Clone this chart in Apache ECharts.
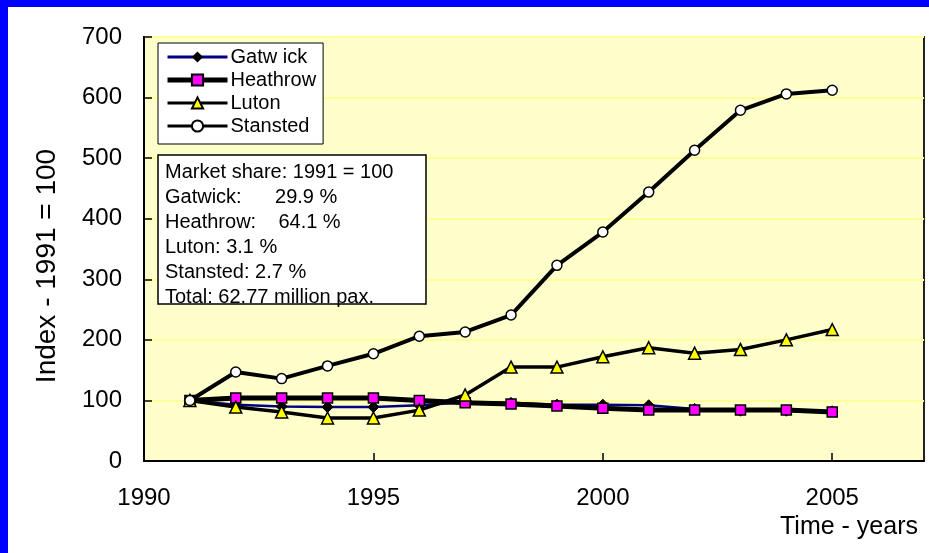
<!DOCTYPE html>
<html>
<head>
<meta charset="utf-8">
<title>London airports index</title>
<script src="https://cdn.jsdelivr.net/npm/echarts@6/dist/echarts.min.js"></script>
<style>
  html, body { margin: 0; padding: 0; background: #fff; }
  #chart { width: 929px; height: 553px; }
</style>
</head>
<body>
<div id="chart"></div>
<script>
  // data (index, 1991 = 100)
  var years = [1991, 1992, 1993, 1994, 1995, 1996, 1997, 1998, 1999, 2000, 2001, 2002, 2003, 2004, 2005];
  var gatwick = [100, 93, 90, 89, 89, 92, 97, 96, 93, 93, 92, 86, 83, 83, 82];
  var heathrow = [100, 104, 104, 104, 104, 100, 96, 94, 91, 87, 84, 84, 84, 84, 81];
  var luton = [100, 89, 81, 71, 71, 84, 109, 155, 155, 172, 187, 178, 184, 200, 217];
  var stansted = [100, 147, 136, 157, 177, 206, 213, 241, 323, 378, 444, 513, 579, 606, 612];
  var seriesNames = ['Gatw ick', 'Heathrow', 'Luton', 'Stansted'];
  var noteLines = [
    'Market share: 1991 = 100',
    'Gatwick:      29.9 %',
    'Heathrow:    64.1 %',
    'Luton: 3.1 %',
    'Stansted: 2.7 %',
    'Total: 62.77 million pax.'
  ];
  var yTitle = 'Index - 1991 = 100';
  var xTitle = 'Time - years';

  var font = '"Liberation Sans", Arial, sans-serif';

  function pairs(vals) {
    return vals.map(function (v, i) { return [years[i], v]; });
  }

  var myChart = echarts.init(document.getElementById('chart'));

  // 说明框
  var noteGraphic = [{
    type: 'rect',
    shape: { x: 158, y: 155, width: 268, height: 149 },
    style: { fill: '#fff', stroke: '#000', lineWidth: 1.5 },
    z: 10
  }];
  noteLines.forEach(function (t, i) {
    noteGraphic.push({
      type: 'text',
      x: 165,
      y: 172 + i * 25,
      style: { text: t, font: '20px ' + font, fill: '#000', verticalAlign: 'middle' },
      z: 11
    });
  });

  var legendWidths = [3, 5, 3, 3];

  var options = {
    animation: false,
    grid: {
      left: 144, top: 37, right: 5, bottom: 92,
      outerBoundsMode: 'none',
      containLabel: false,
      show: true,
      backgroundColor: '#FFFFCC',
      borderColor: '#222',
      borderWidth: 2
    },
    legend: {
      data: seriesNames.map(function (n, i) {
        return { name: n, lineStyle: { width: legendWidths[i] } };
      }),
      orient: 'vertical',
      left: 158,
      top: 43,
      padding: [4, 7, 8, 7],
      itemWidth: 60,
      itemHeight: 14,
      itemGap: 3,
      backgroundColor: '#fff',
      borderColor: '#000',
      borderWidth: 1,
      textStyle: { fontFamily: font, fontSize: 20, color: '#000', padding: [0, 0, 0, -2] },
      z: 12
    },
    xAxis: {
      type: 'value',
      min: 1990,
      max: 2007,
      interval: 5,
      axisLine: { lineStyle: { color: '#000', width: 2 } },
      axisTick: { inside: true, length: 8, lineStyle: { color: '#000', width: 1.5 } },
      axisLabel: {
        fontFamily: font, fontSize: 24, color: '#000', margin: 25,
        showMaxLabel: false,
        formatter: function (v) { return String(v); }
      },
      splitLine: { show: false }
    },
    yAxis: {
      type: 'value',
      min: 0,
      max: 700,
      interval: 100,
      axisLine: { show: true, lineStyle: { color: '#000', width: 2 } },
      axisTick: { show: true, inside: true, length: 8, lineStyle: { color: '#000', width: 1.5 } },
      axisLabel: { fontFamily: font, fontSize: 24, color: '#000', margin: 22 },
      splitLine: { lineStyle: { color: '#FFFF99', width: 2 } }
    },
    graphic: [
      { type: 'rect', shape: { x: 0, y: 0, width: 929, height: 7 }, style: { fill: '#0000FF' } },
      { type: 'rect', shape: { x: 0, y: 0, width: 8, height: 553 }, style: { fill: '#0000FF' } },
      {
        type: 'text', x: 47, y: 266, rotation: Math.PI / 2,
        style: { text: yTitle, font: '28px ' + font, fill: '#000', align: 'center', verticalAlign: 'middle' }
      },
      {
        type: 'text', x: 918, y: 527,
        style: { text: xTitle, font: '25px ' + font, fill: '#000', align: 'right', verticalAlign: 'middle' }
      }
    ].concat(noteGraphic),
    series: [
      {
        name: seriesNames[0],
        type: 'line',
        data: pairs(gatwick),
        symbol: 'diamond',
        symbolSize: 11,
        itemStyle: { color: '#000', borderColor: '#000' },
        lineStyle: { color: '#000080', width: 2.5 },
        z: 2
      },
      {
        name: seriesNames[1],
        type: 'line',
        data: pairs(heathrow),
        symbol: 'rect',
        symbolSize: 10,
        itemStyle: { color: '#FF00FF', borderColor: '#000', borderWidth: 1.5 },
        lineStyle: { color: '#000', width: 5 },
        z: 3
      },
      {
        name: seriesNames[2],
        type: 'line',
        data: pairs(luton),
        symbol: 'triangle',
        symbolSize: 12,
        itemStyle: { color: '#FFFF00', borderColor: '#000', borderWidth: 1.5 },
        lineStyle: { color: '#000', width: 3.5 },
        z: 4
      },
      {
        name: seriesNames[3],
        type: 'line',
        data: pairs(stansted),
        symbol: 'circle',
        symbolSize: 10,
        itemStyle: { color: '#fff', borderColor: '#000', borderWidth: 1.5 },
        lineStyle: { color: '#000', width: 4 },
        z: 5
      }
    ]
  };
  myChart.setOption(options);
</script>
</body>
</html>
